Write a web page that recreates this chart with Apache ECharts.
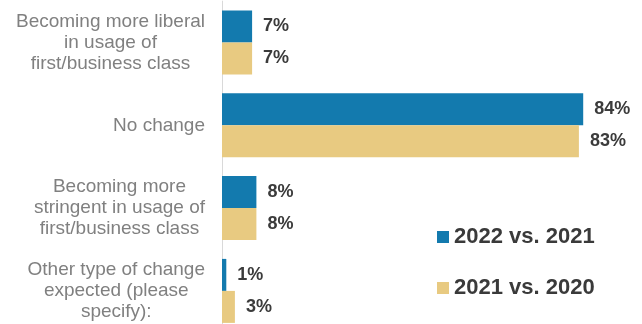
<!DOCTYPE html>
<html><head><meta charset="utf-8">
<script src="https://cdn.jsdelivr.net/npm/echarts@6/dist/echarts.min.js"></script>
<style>html,body{margin:0;padding:0;background:#fff}#c{width:642px;height:324px}</style>
</head><body><div id="c"></div>
<script>
const categories = [
  "Becoming more liberal\nin usage of\nfirst/business class",
  "No change",
  "Becoming more\nstringent in usage of\nfirst/business class",
  "Other type of change\nexpected (please\nspecify):"
];
const seriesNames = ["2022 vs. 2021", "2021 vs. 2020"];
const values2022 = [7, 84, 8, 1];
const values2021 = [7, 83, 8, 3];
const colors = ["#137aae", "#e8ca81"];

const FONT = 'Liberation Sans, Arial, sans-serif';
const chart = echarts.init(document.getElementById('c'), null, {renderer: 'canvas'});
const labelStyle = {
  show: true, position: 'right', distance: 11,
  formatter: '{c}%', fontFamily: FONT,
  fontWeight: 'bold', fontSize: 18, color: '#3b3b3b'
};
chart.setOption({
  animation: false,
  grid: {left: 222, width: 387, top: 1.1, height: 331.2, containLabel: false, outerBoundsMode: 'none'},
  legend: {
    orient: 'vertical', left: 432, top: 221, itemWidth: 12, itemHeight: 12,
    itemGap: 29, icon: 'rect',
    textStyle: {fontFamily: FONT, fontWeight: 'bold', fontSize: 22, color: '#3a3a3a'},
    data: seriesNames
  },
  xAxis: {type: 'value', min: 0, max: 90, show: false},
  yAxis: {
    type: 'category', data: categories, inverse: true,
    axisLine: {show: true, lineStyle: {color: '#d9d9d9', width: 1}},
    axisTick: {show: false},
    axisLabel: {
      margin: 17, align: 'right',
      formatter: function (v) { return v.split('\n').map(function (l) { return '{c|' + l + '}'; }).join('\n'); },
      rich: {c: {align: 'center', fontFamily: FONT, fontSize: 19, lineHeight: 21, color: '#808080'}}
    }
  },
  series: [
    {name: seriesNames[0], type: 'bar', data: values2022, barWidth: 32, barGap: '0%', itemStyle: {color: colors[0]}, label: labelStyle},
    {name: seriesNames[1], type: 'bar', data: values2021, barWidth: 32, barGap: '0%', itemStyle: {color: colors[1]}, label: labelStyle}
  ]
});
</script></body></html>
